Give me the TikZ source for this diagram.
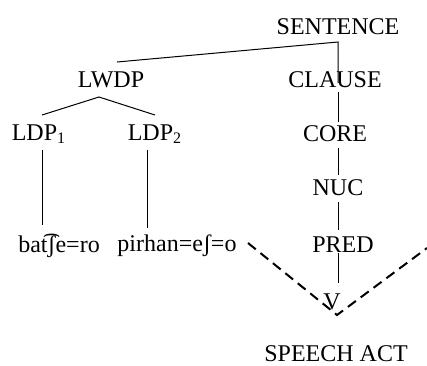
\documentclass[tikz,border=0pt]{standalone}
\usepackage{fontspec}
\setmainfont{Liberation Serif}
\begin{document}
\begin{tikzpicture}[x=0.5pt,y=-0.5pt,
  lbl/.style={inner sep=0pt,font=\fontsize{12}{14}\selectfont},
  branch/.style={line width=0.5pt},
  speech/.style={line width=1pt,dash pattern=on 5pt off 3pt}]
\useasboundingbox (0,0) rectangle (427,365);
\node[lbl] (sent) at (338,27) {SENTENCE};
\node[lbl] (lwdp) at (111,80) {LWDP};
\node[lbl] (clause) at (335,80) {CLAUSE};
\node[lbl] (ldpa) at (39,134) {LDP\textsubscript{1}};
\node[lbl] (ldpb) at (155,134) {LDP\textsubscript{2}};
\node[lbl] (core) at (335,134) {CORE};
\node[lbl] (nuc) at (338,188) {NUC};
\node[lbl] (pred) at (343,245) {PRED};
\node[lbl] (v) at (332,302) {V};
\node[lbl] (sa) at (336,354) {SPEECH ACT};
\node[lbl] (bat) at (59,246) {bat͡ʃe=ro};
\node[lbl] (pir) at (177,246) {pirhan=eʃ=o};
% branch points
\coordinate (sb) at (338,42);
\coordinate (lw) at (117,62);
\coordinate (lb) at (99,97);
\coordinate (la) at (42,115);
\coordinate (lc) at (155,115);
\coordinate (cl) at (338,83);
\coordinate (vb) at (337,315);
\coordinate (dl) at (248,243);
\coordinate (dr) at (427,248);
\draw[branch] (lw) -- (sb) -- (cl);
\draw[branch] (la) -- (lb) -- (lc);
\draw[branch] (42,150) -- (42,225);
\draw[branch] (147,150) -- (147,228);
\draw[branch] (338,92) -- (338,122);
\draw[branch] (338,148) -- (338,175);
\draw[branch] (338,202) -- (338,230);
\draw[branch] (338,253) -- (338,283);
\draw[speech] (dl) -- (vb) -- (dr);
\end{tikzpicture}
\end{document}
